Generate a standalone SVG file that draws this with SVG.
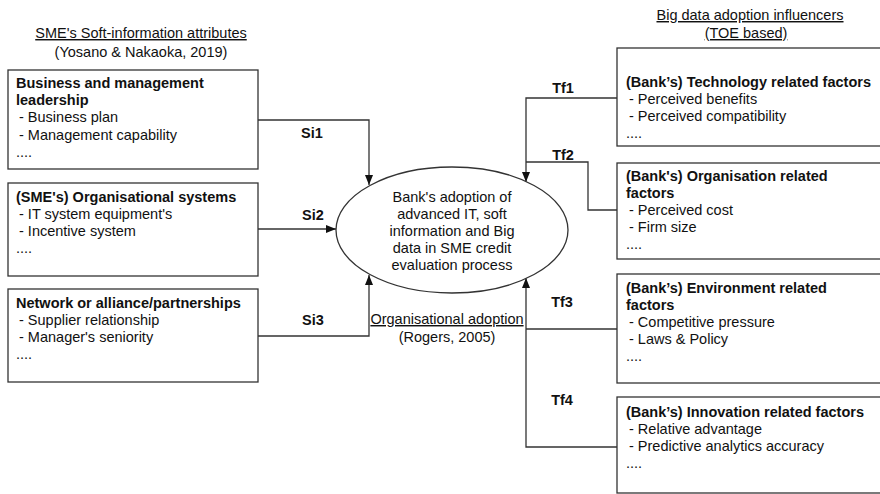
<svg xmlns="http://www.w3.org/2000/svg" width="880" height="494" viewBox="0 0 880 494">
<style>
text{font-family:"Liberation Sans",Arial,sans-serif;font-size:14.5px;fill:#111}
.b{font-weight:bold}
.u{text-decoration:underline}
.c{text-anchor:middle}
.box{fill:#fff;stroke:#333;stroke-width:1.3}
.ln{fill:none;stroke:#333;stroke-width:1.3}
</style>
<defs>
<marker id="ah" markerUnits="userSpaceOnUse" markerWidth="10" markerHeight="10" viewBox="0 0 10 10" refX="10" refY="5" orient="auto">
<path d="M0,1 L10,5 L0,9 Z" fill="#111"/>
</marker>
</defs>
<rect width="880" height="494" fill="#fff"/>

<g id="titles">
<text class="c u" x="141" y="38">SME's Soft-information attributes</text>
<text class="c" x="141" y="57">(Yosano &amp; Nakaoka, 2019)</text>
<text class="c u" x="750" y="20">Big data adoption influencers</text>
<text class="c u" x="746" y="38">(TOE based)</text>
</g>

<g id="connectors">
<path class="ln" d="M258,120 H369 V185" marker-end="url(#ah)"/>
<path class="ln" d="M258,229 H336" marker-end="url(#ah)"/>
<path class="ln" d="M258,336 H369 V275" marker-end="url(#ah)"/>
<path class="ln" d="M617,98 H526 V182" marker-end="url(#ah)"/>
<path class="ln" d="M617,210 H588 V162 H526"/>
<path class="ln" d="M617,329 H526"/>
<path class="ln" d="M617,447 H526 V278" marker-end="url(#ah)"/>
<text class="b c" x="312" y="138">Si1</text>
<text class="b c" x="313" y="220">Si2</text>
<text class="b c" x="313" y="325">Si3</text>
<text class="b c" x="563" y="93">Tf1</text>
<text class="b c" x="563" y="160">Tf2</text>
<text class="b c" x="562" y="307">Tf3</text>
<text class="b c" x="562" y="405">Tf4</text>
<text class="c u" x="447" y="324">Organisational adoption</text>
<text class="c" x="447" y="342">(Rogers, 2005)</text>
</g>

<g id="center">
<ellipse cx="452" cy="230" rx="116" ry="63" fill="#fff" stroke="#333" stroke-width="1.3"/>
<text class="c" x="452" y="202">Bank's adoption of</text>
<text class="c" x="452" y="219">advanced IT,  soft</text>
<text class="c" x="452" y="236">information and Big</text>
<text class="c" x="452" y="253">data in SME credit</text>
<text class="c" x="452" y="270">evaluation process</text>
</g>

<g id="si-business">
<rect class="box" x="8" y="70" width="250" height="99"/>
<text class="b" x="16" y="88">Business and management</text>
<text class="b" x="16" y="105">leadership</text>
<text x="19" y="122">- Business plan</text>
<text x="19" y="140">- Management capability</text>
<text x="16" y="157">....</text>
</g>

<g id="si-organisational">
<rect class="box" x="8" y="183" width="250" height="93"/>
<text class="b" x="16" y="202">(SME's) Organisational systems</text>
<text x="19" y="219">- IT system equipment's</text>
<text x="19" y="236">- Incentive  system</text>
<text x="16" y="253">....</text>
</g>

<g id="si-network">
<rect class="box" x="8" y="289" width="250" height="93"/>
<text class="b" x="16" y="308">Network or alliance/partnerships</text>
<text x="19" y="325">- Supplier relationship</text>
<text x="19" y="342">- Manager's seniority</text>
<text x="16" y="359">....</text>
</g>

<g id="tf-technology">
<rect class="box" x="617" y="48" width="270" height="98"/>
<text class="b" x="626" y="87">(Bank’s)  Technology related factors</text>
<text x="629" y="104">- Perceived benefits</text>
<text x="629" y="121">- Perceived compatibility</text>
<text x="626" y="138">....</text>
</g>

<g id="tf-organisation">
<rect class="box" x="617" y="163" width="270" height="96"/>
<text class="b" x="626" y="181">(Bank's) Organisation related</text>
<text class="b" x="626" y="198">factors</text>
<text x="629" y="215">- Perceived cost</text>
<text x="629" y="232">- Firm size</text>
<text x="626" y="249">....</text>
</g>

<g id="tf-environment">
<rect class="box" x="617" y="274" width="270" height="109"/>
<text class="b" x="626" y="293">(Bank’s) Environment related</text>
<text class="b" x="626" y="310">factors</text>
<text x="629" y="327">- Competitive pressure</text>
<text x="629" y="344">- Laws &amp; Policy</text>
<text x="626" y="361">....</text>
</g>

<g id="tf-innovation">
<rect class="box" x="617" y="397" width="270" height="96"/>
<text class="b" x="626" y="417">(Bank’s) Innovation related factors</text>
<text x="629" y="434">- Relative advantage</text>
<text x="629" y="451">- Predictive analytics accuracy</text>
<text x="626" y="468">....</text>
</g>
</svg>
